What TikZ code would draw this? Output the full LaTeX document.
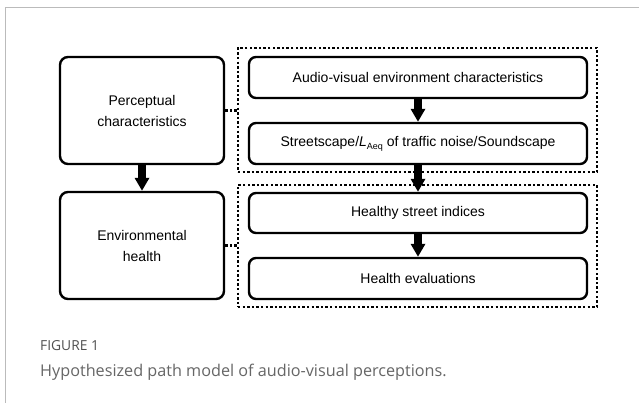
\documentclass[tikz,border=0pt]{standalone}
\usepackage{fontspec}
\setmainfont{Liberation Sans}
\newfontfamily\capfont{Open Sans}
\usetikzlibrary{arrows.meta}
\definecolor{framegray}{HTML}{BBBBBB}
\definecolor{capgray}{HTML}{666666}
\definecolor{figgray}{HTML}{505050}
\begin{document}
\begin{tikzpicture}[x=1pt,y=-1pt,
  box/.style={draw=black,line width=2.4pt,rounded corners=8pt,fill=white,align=center,
    font=\fontsize{14}{21}\selectfont,inner sep=0pt},
  group/.style={draw=black,line width=2.5pt,dash pattern=on 2.4pt off 2.2pt,inner sep=0pt},
  blockarrow/.style={line width=8pt,-{Triangle[width=14pt,length=13pt]}},
  link/.style={line width=2.5pt,dash pattern=on 2.4pt off 2.2pt},
  ]
\useasboundingbox (0,0) rectangle (639,403);
\fill[white] (0,0) rectangle (639,403);
\draw[framegray,line width=1pt] (5,403) -- (5,8) -- (639,8);

% groups
\node[group,minimum width=359pt,minimum height=124pt] (d1) at (417.5,110) {};
\node[group,minimum width=359pt,minimum height=122pt] (d2) at (417.5,246) {};

% left boxes
\node[box,minimum width=164pt,minimum height=107pt] (l1) at (142,110.5) {Perceptual\\characteristics};
\node[box,minimum width=164pt,minimum height=107pt] (l2) at (142,245.5) {Environmental\\health};

% right boxes
\node[box,minimum width=338pt,minimum height=41pt,rounded corners=7pt] (r1) at (418,77.5) {Audio-visual environment characteristics};
\node[box,minimum width=338pt,minimum height=41pt,rounded corners=7pt] (r2) at (418,143.5) {Streetscape/\textit{L}\raisebox{-3pt}{\fontsize{9}{9}\selectfont Aeq} of traffic noise/Soundscape};
\node[box,minimum width=338pt,minimum height=40pt,rounded corners=7pt] (r3) at (418,213) {Healthy street indices};
\node[box,minimum width=338pt,minimum height=41pt,rounded corners=7pt] (r4) at (418,278.5) {Health evaluations};

% arrows
\draw[blockarrow] (l1.south) -- (l2.north);
\draw[blockarrow] (r1.south) -- (r2.north);
\draw[blockarrow] (r2.south) -- (r3.north);
\draw[blockarrow] (r3.south) -- (r4.north);

% dotted links
\draw[link] (l1.east) -- (l1.east -| d1.west);
\draw[link] (l2.east) -- (l2.east -| d2.west);

% caption
\node[anchor=base west,inner sep=0pt,text=figgray,font=\capfont\fontsize{13.8}{15}\selectfont] (fig) at (40,350) {FIGURE 1};
\node[anchor=base west,inner sep=0pt,text=capgray,font=\capfont\fontsize{16.2}{19}\selectfont] (cap) at (40,376) {Hypothesized path model of audio-visual perceptions.};
\end{tikzpicture}
\end{document}
